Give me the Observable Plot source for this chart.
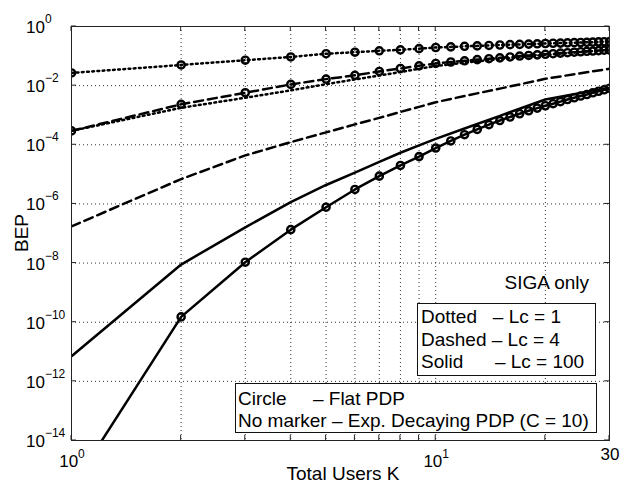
<!DOCTYPE html>
<html><head><meta charset="utf-8">
<script src="https://cdn.jsdelivr.net/npm/d3@7"></script>
<script src="https://cdn.jsdelivr.net/npm/@observablehq/plot@0.6"></script>
<style>
body{margin:0;background:#fff;}
svg text{font-family:"Liberation Sans", Arial, Helvetica, sans-serif;}
</style></head><body><div id="chart"></div>
<script>
// Total users K (flat-PDP curves, circle markers at every K)
const K = [1,2,3,4,5,6,7,8,9,10,11,12,13,14,15,16,17,18,19,20,21,22,23,24,25,26,27,28,29,30];
const flatLc1 = [2.69e-2,5.01e-2,7.24e-2,9.33e-2,0.120,0.135,0.151,0.162,0.178,0.195,0.204,0.214,0.221,0.229,0.237,0.243,0.248,0.254,0.260,0.266,0.271,0.275,0.280,0.284,0.288,0.292,0.296,0.301,0.305,0.309];
const flatLc4 = [2.95e-4,2.34e-3,5.75e-3,1.10e-2,1.66e-2,2.24e-2,3.02e-2,3.80e-2,4.68e-2,5.62e-2,6.31e-2,6.92e-2,7.59e-2,8.13e-2,8.71e-2,9.33e-2,0.100,0.105,0.110,0.115,0.120,0.126,0.130,0.135,0.140,0.145,0.148,0.153,0.158,0.162];
const flatLc100 = [2.5e-16,1.51e-10,1.07e-8,1.35e-7,7.76e-7,3.09e-6,8.71e-6,2.0e-5,3.98e-5,7.76e-5,1.35e-4,2.19e-4,3.31e-4,4.79e-4,6.61e-4,8.71e-4,1.12e-3,1.41e-3,1.74e-3,2.09e-3,2.45e-3,2.88e-3,3.39e-3,3.89e-3,4.47e-3,5.01e-3,5.75e-3,6.46e-3,7.24e-3,8.13e-3];
// Exponentially decaying PDP curves (no marker)
const kExp = [1,2,3,4,5,6,7,8,9,10,12,15,20,25,30];
const expLc1 = [2.95e-4,1.78e-3,3.89e-3,6.92e-3,1.12e-2,1.62e-2,2.19e-2,2.88e-2,3.72e-2,4.57e-2,6.03e-2,7.94e-2,0.110,0.138,0.158];
const expLc4 = [1.74e-7,6.92e-6,4.37e-5,1.23e-4,2.63e-4,4.90e-4,8.13e-4,1.29e-3,1.91e-3,2.75e-3,4.47e-3,7.94e-3,1.70e-2,2.63e-2,3.72e-2];
const expLc100 = [7.08e-12,8.91e-9,1.62e-7,1.15e-6,4.37e-6,1.15e-5,2.63e-5,5.37e-5,9.55e-5,1.58e-4,3.55e-4,9.55e-4,3.39e-3,5.62e-3,8.13e-3];

// ticks and grid
const xTickValues = [1,2,3,4,5,6,7,8,9,10,20,30];
const xGridValues = [2,3,4,5,6,7,8,9,10,20];
const yTickValues = [1,1e-2,1e-4,1e-6,1e-8,1e-10,1e-12,1e-14];
const yTickExps = ["0","−2","−4","−6","−8","−10","−12","−14"];
const yGridValues = [1e-2,1e-4,1e-6,1e-8,1e-10,1e-12];
const xLabelValues = [1,10,30];
const xLabelBase = ["10","10","30"];
const xLabelSup = ["0","1",""];

const legendNote = "SIGA only";
const legendLines1 = ["Dotted   – Lc = 1","Dashed – Lc = 4","Solid      – Lc = 100"];
const legendLines2 = ["Circle     – Flat PDP","No marker – Exp. Decaying PDP (C = 10)"];

const dashStyles = {dotted:"1.8,3.4", dashed:"9,5", solid:null};
const seriesList = [
  {name:"flat1", k:K, v:flatLc1, style:"dotted", marker:true},
  {name:"exp1", k:kExp, v:expLc1, style:"dotted", marker:false},
  {name:"flat4", k:K, v:flatLc4, style:"dashed", marker:true},
  {name:"exp4", k:kExp, v:expLc4, style:"dashed", marker:false},
  {name:"flat100", k:K, v:flatLc100, style:"solid", marker:true},
  {name:"exp100", k:kExp, v:expLc100, style:"solid", marker:false}
];
const rows = seriesList.flatMap(s => s.k.map((k,i) => ({K:k, BEP:s.v[i], name:s.name})));

const W = 634, H = 483, mL = 71, mR = 25, mT = 26, mB = 43;

const chart = Plot.plot({
  width: W, height: H,
  marginLeft: mL, marginRight: mR, marginTop: mT, marginBottom: mB,
  style: {background: "white", overflow: "visible"},
  x: {type: "log", domain: [1, 30], axis: null},
  y: {type: "log", domain: [1e-14, 1], axis: null},
  marks: [
    Plot.ruleX(xGridValues, {stroke: "#333", strokeWidth: 1, strokeDasharray: "1,3"}),
    Plot.ruleY(yGridValues, {stroke: "#333", strokeWidth: 1, strokeDasharray: "1,3"}),
    ...seriesList.map(s => Plot.line(rows.filter(r => r.name === s.name), {
      x: "K", y: "BEP", stroke: "black", strokeWidth: 2.5,
      strokeDasharray: dashStyles[s.style], clip: true
    })),
    ...seriesList.filter(s => s.marker).map(s => Plot.dot(rows.filter(r => r.name === s.name), {
      x: "K", y: "BEP", r: 3.6, stroke: "black", strokeWidth: 2.4, fill: "none", clip: true
    })),
    Plot.frame({stroke: "#222", strokeWidth: 1})
  ]
});
document.getElementById("chart").appendChild(chart);

const xs = chart.scale("x"), ys = chart.scale("y");
const svg = d3.select(chart);
const g = svg.append("g").attr("text-anchor", "start").attr("fill", "black");
const fTop = mT, fBottom = H - mB, fLeft = mL, fRight = W - mR;
const tl = 5;
xTickValues.forEach(v => {
  const px = xs.apply(v);
  g.append("line").attr("x1", px).attr("x2", px).attr("y1", fBottom).attr("y2", fBottom - tl).attr("stroke", "#222");
  g.append("line").attr("x1", px).attr("x2", px).attr("y1", fTop).attr("y2", fTop + tl).attr("stroke", "#222");
});
yTickValues.forEach((v, i) => {
  const py = ys.apply(v);
  g.append("line").attr("x1", fLeft).attr("x2", fLeft + tl).attr("y1", py).attr("y2", py).attr("stroke", "#222");
  g.append("line").attr("x1", fRight).attr("x2", fRight - tl).attr("y1", py).attr("y2", py).attr("stroke", "#222");
  const t = g.append("text").attr("x", 26).attr("y", py + 7).attr("text-anchor", "start")
    .attr("font-size", 17).text("10");
  t.append("tspan").attr("dy", -10).attr("font-size", 12).text(yTickExps[i]);
});
xLabelValues.forEach((v, i) => {
  const px = xs.apply(v);
  const t = g.append("text").attr("x", px + 1).attr("y", xLabelSup[i] ? 467 : 460)
    .attr("text-anchor", "middle").attr("font-size", 17).text(xLabelBase[i]);
  if (xLabelSup[i]) t.append("tspan").attr("dy", -9).attr("font-size", 12).text(xLabelSup[i]);
});
// axis labels
g.append("text").attr("x", 343).attr("y", 480).attr("text-anchor", "middle").attr("font-size", 19).text("Total Users K");
g.append("text").attr("transform", `translate(28,${(fTop + fBottom) / 2}) rotate(-90)`).attr("text-anchor", "middle").attr("font-size", 19).text("BEP");

// annotations / legends
g.append("text").attr("x", 589).attr("y", 289).attr("text-anchor", "end").attr("font-size", 19).text(legendNote);
g.append("rect").attr("x", 417.5).attr("y", 303.5).attr("width", 178).attr("height", 72).attr("fill", "white").attr("stroke", "#111");
legendLines1.forEach((s, i) => {
  g.append("text").attr("x", 421).attr("y", 323 + i * 22.5).attr("text-anchor", "start").attr("font-size", 19)
    .style("white-space", "pre").text(s);
});
g.append("rect").attr("x", 235.5).attr("y", 383.5).attr("width", 361).attr("height", 49).attr("fill", "white").attr("stroke", "#111");
legendLines2.forEach((s, i) => {
  g.append("text").attr("x", 238).attr("y", 405 + i * 22).attr("text-anchor", "start").attr("font-size", 19)
    .style("white-space", "pre").text(s);
});
</script></body></html>
